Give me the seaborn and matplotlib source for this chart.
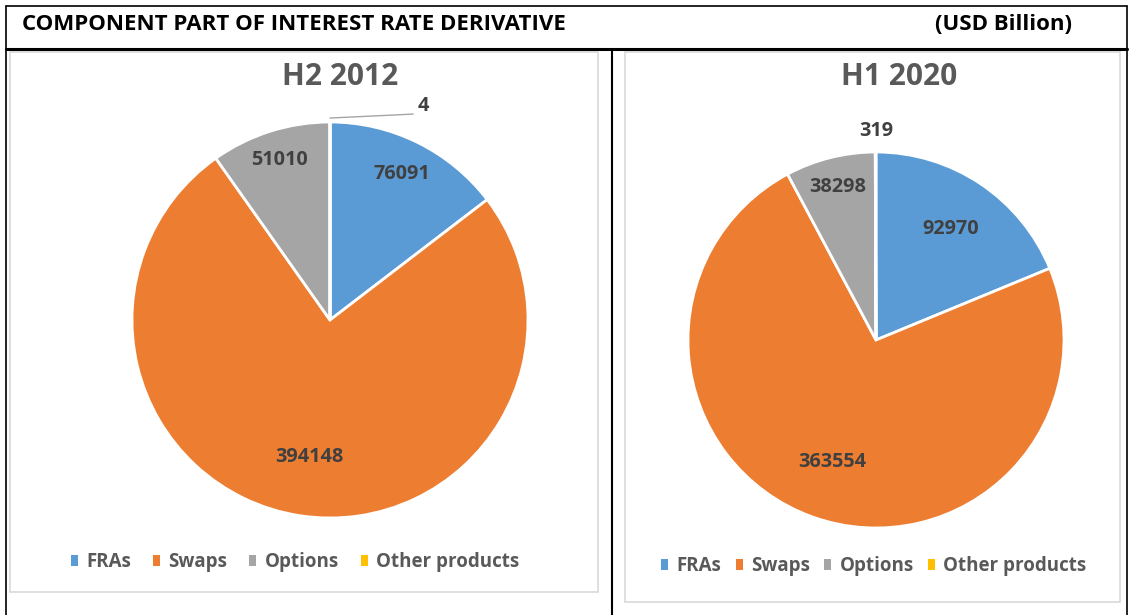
import numpy as np
import matplotlib.pyplot as plt
import seaborn as sns
from matplotlib.lines import Line2D
from matplotlib.patches import Rectangle, Patch

# data
categories = ["FRAs", "Swaps", "Options", "Other products"]
h2_2012 = [76091, 394148, 51010, 4]
h1_2020 = [92970, 363554, 38298, 319]
colors = ["#5B9BD5", "#ED7D31", "#A5A5A5", "#FFC000"]

sns.set_theme(style="white")
plt.rcParams["font.family"] = ["Open Sans", "DejaVu Sans"]

W, H = 1129, 615
fig = plt.figure(figsize=(W / 100, H / 100), dpi=100)
fig.patch.set_facecolor("white")


def fx(x):
    return x / W


def fy(y):
    return 1 - y / H


def hline(x0, x1, y, lw=1.5, c="black"):
    fig.add_artist(Line2D([fx(x0), fx(x1)], [fy(y), fy(y)], color=c, lw=lw))


def vline(x, y0, y1, lw=1.5, c="black"):
    fig.add_artist(Line2D([fx(x), fx(x)], [fy(y0), fy(y1)], color=c, lw=lw))


# table frame
hline(6, 1127, 6, lw=1.2)
hline(6, 1127, 49, lw=2.2)
vline(6, 6, 615, lw=1.2)
vline(1127, 6, 615, lw=1.2)
vline(612, 49, 615, lw=1.5)

fig.text(fx(22), fy(25), "COMPONENT PART OF INTEREST RATE DERIVATIVE", fontsize=16,
         fontweight="bold", color="black", va="center", ha="left")
fig.text(fx(1072), fy(25), "(USD Billion)", fontsize=16,
         fontweight="bold", color="black", va="center", ha="right")

# chart boxes
for (x0, y0, x1, y1) in [(10, 52, 598, 592), (625, 52, 1120, 602)]:
    fig.add_artist(Rectangle((fx(x0), fy(y1)), fx(x1 - x0), (y1 - y0) / H,
                             fill=False, edgecolor="#D9D9D9", lw=1.2))


def draw_pie(cx, cy, r, values, title, title_x, label_pos, legend_x, legend_y, colspace):
    ax = fig.add_axes([fx(cx - r), fy(cy + r), 2 * r / W, 2 * r / H])
    wedges, _ = ax.pie(values, colors=colors, startangle=90, counterclock=False,
                       radius=1, wedgeprops=dict(edgecolor="white", linewidth=2))
    ax.set_xlim(-1, 1)
    ax.set_ylim(-1, 1)
    ax.set_aspect("equal")
    ax.axis("off")
    for w, v, (dist, dx, dy) in zip(wedges, values, label_pos):
        ang = np.deg2rad((w.theta1 + w.theta2) / 2)
        x = dist * np.cos(ang) + dx
        y = dist * np.sin(ang) + dy
        ax.text(x, y, f"{v}", ha="center", va="center", fontsize=14.3,
                fontweight="bold", color="#404040", clip_on=False)
    fig.text(fx(title_x), fy(77), title, ha="center", va="center", fontsize=21.5,
             fontweight="bold", color="#595959")
    handles = [Patch(facecolor=c, edgecolor="none") for c in colors]
    fig.legend(handles, categories, loc="center",
               bbox_to_anchor=(fx(legend_x), fy(legend_y)),
               ncol=4, frameon=False, handlelength=0.37, handleheight=0.5,
               handletextpad=0.45, columnspacing=colspace,
               prop=dict(size=13.5, weight="bold"), labelcolor="#595959")
    return ax


# left pie
axl = draw_pie(330, 320, 198, h2_2012, "H2 2012", 340,
               [(0.82, 0, 0), (0.70, 0, 0), (0.85, 0, 0), (0, 0.47, 1.08)],
               295, 562, 1.17)
axl.plot([0.0, 0.42], [1.02, 1.04], color="#A5A5A5", lw=1, clip_on=False)

# right pie
draw_pie(876, 340, 188, h1_2020, "H1 2020", 899,
         [(0.71, 0, 0), (0.69, 0, 0), (0.84, 0, 0), (0, 0.0, 1.11)],
         874, 566, 0.75)

fig.savefig("out.png", dpi=100)
